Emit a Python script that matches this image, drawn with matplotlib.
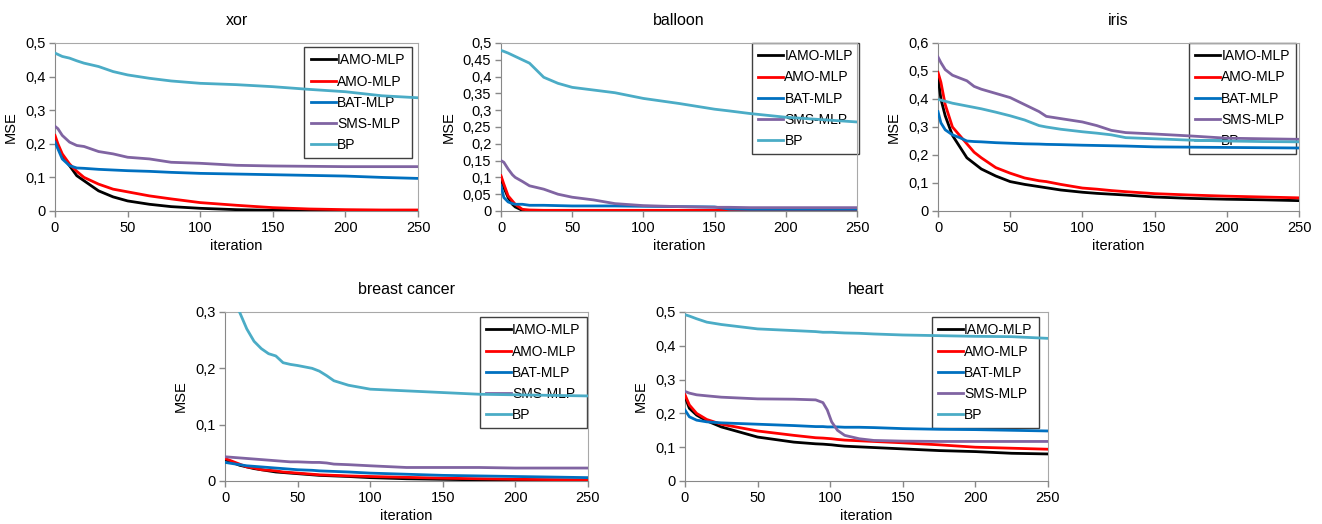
import matplotlib
matplotlib.use("Agg")
import matplotlib.pyplot as plt
from matplotlib.ticker import FuncFormatter, MultipleLocator

plt.rcParams['font.family'] = ['Liberation Sans', 'DejaVu Sans']

labels = ['IAMO-MLP', 'AMO-MLP', 'BAT-MLP', 'SMS-MLP', 'BP']
colors = ['#000000', '#FF0000', '#0070C0', '#8064A2', '#4BACC6']

# xor
xor_it = [0, 2, 5, 10, 15, 20, 30, 40, 50, 65, 80, 100, 125, 150, 175, 200, 225, 250]
xor_iamo = [0.21, 0.19, 0.165, 0.135, 0.105, 0.09, 0.06, 0.042, 0.03, 0.02, 0.013, 0.008, 0.004, 0.002, 0.001, 0.0005, 0.0, 0.0]
xor_amo = [0.225, 0.2, 0.17, 0.14, 0.118, 0.1, 0.08, 0.065, 0.057, 0.045, 0.036, 0.025, 0.017, 0.01, 0.006, 0.004, 0.003, 0.003]
xor_bat = [0.205, 0.185, 0.155, 0.135, 0.128, 0.127, 0.124, 0.122, 0.12, 0.118, 0.115, 0.112, 0.11, 0.108, 0.106, 0.104, 0.1, 0.097]
xor_sms = [0.252, 0.245, 0.225, 0.205, 0.195, 0.192, 0.177, 0.17, 0.16, 0.155, 0.145, 0.142, 0.136, 0.134, 0.133, 0.132, 0.132, 0.132]
xor_bp = [0.47, 0.466, 0.46, 0.455, 0.447, 0.44, 0.43, 0.415, 0.405, 0.395, 0.387, 0.38, 0.376, 0.37, 0.362, 0.355, 0.343, 0.337]

# balloon
bal_it = [0, 2, 5, 8, 10, 15, 20, 30, 40, 50, 65, 80, 100, 125, 150, 160, 175, 200, 225, 250]
bal_iamo = [0.1, 0.07, 0.04, 0.02, 0.012, 0.002, 0.0, 0.0, 0.0, 0.0, 0.0, 0.0, 0.0, 0.0, 0.0, 0.0, 0.0, 0.0, 0.0, 0.0]
bal_amo = [0.105, 0.08, 0.045, 0.03, 0.02, 0.005, 0.003, 0.002, 0.002, 0.002, 0.002, 0.002, 0.002, 0.002, 0.002, 0.002, 0.002, 0.002, 0.002, 0.002]
bal_bat = [0.075, 0.04, 0.027, 0.022, 0.02, 0.02, 0.017, 0.017, 0.016, 0.015, 0.015, 0.015, 0.014, 0.013, 0.012, 0.006, 0.005, 0.005, 0.005, 0.005]
bal_sms = [0.15, 0.145, 0.125, 0.108, 0.1, 0.088, 0.075, 0.065, 0.05, 0.041, 0.033, 0.022, 0.016, 0.013, 0.011, 0.011, 0.01, 0.01, 0.01, 0.01]
bal_bp = [0.478, 0.475, 0.47, 0.464, 0.46, 0.45, 0.44, 0.398, 0.38, 0.368, 0.36, 0.352, 0.335, 0.32, 0.303, 0.298, 0.29, 0.279, 0.272, 0.265]

# iris
iris_it = [0, 2, 5, 10, 15, 20, 25, 30, 40, 50, 60, 70, 75, 85, 100, 110, 120, 130, 150, 175, 200, 225, 250]
iris_iamo = [0.48, 0.4, 0.34, 0.27, 0.23, 0.19, 0.17, 0.15, 0.125, 0.105, 0.095, 0.087, 0.083, 0.075, 0.067, 0.063, 0.06, 0.057, 0.05, 0.045, 0.042, 0.04, 0.037]
iris_amo = [0.495, 0.46, 0.38, 0.3, 0.27, 0.24, 0.21, 0.19, 0.155, 0.135, 0.118, 0.108, 0.105, 0.095, 0.082, 0.078, 0.073, 0.069, 0.062, 0.057, 0.053, 0.05, 0.047]
iris_bat = [0.355, 0.315, 0.29, 0.272, 0.262, 0.25, 0.248, 0.247, 0.244, 0.242, 0.24, 0.239, 0.238, 0.237, 0.235, 0.234, 0.233, 0.232, 0.229, 0.228, 0.227, 0.226, 0.225]
iris_sms = [0.55, 0.53, 0.505, 0.485, 0.475, 0.465, 0.445, 0.435, 0.42, 0.405, 0.38, 0.355, 0.338, 0.33, 0.318, 0.305, 0.288, 0.28, 0.275, 0.268, 0.26, 0.258, 0.256]
iris_bp = [0.398, 0.396, 0.392, 0.385, 0.38, 0.375, 0.37, 0.365, 0.353, 0.34, 0.325, 0.305, 0.3, 0.292, 0.283, 0.278, 0.272, 0.262, 0.258, 0.253, 0.25, 0.248, 0.247]

# breast cancer
bc_it = [0, 5, 10, 15, 20, 25, 30, 35, 40, 45, 50, 60, 65, 70, 75, 85, 100, 125, 150, 175, 200, 225, 250]
bc_iamo = [0.038, 0.033, 0.028, 0.025, 0.022, 0.02, 0.018, 0.016, 0.015, 0.014, 0.013, 0.011, 0.01, 0.0095, 0.009, 0.008, 0.006, 0.004, 0.003, 0.002, 0.001, 0.001, 0.001]
bc_amo = [0.04, 0.035, 0.03, 0.025, 0.023, 0.02, 0.019, 0.018, 0.016, 0.015, 0.014, 0.012, 0.011, 0.0105, 0.01, 0.009, 0.008, 0.0065, 0.005, 0.004, 0.003, 0.0025, 0.002]
bc_bat = [0.033, 0.031, 0.029, 0.027, 0.026, 0.025, 0.024, 0.023, 0.022, 0.021, 0.02, 0.019, 0.018, 0.0175, 0.017, 0.016, 0.014, 0.012, 0.01, 0.009, 0.008, 0.007, 0.006]
bc_sms = [0.043, 0.042, 0.041, 0.04, 0.039, 0.038, 0.037, 0.036, 0.035, 0.034, 0.034, 0.033, 0.033, 0.032, 0.03, 0.029, 0.027, 0.024, 0.024, 0.024, 0.023, 0.023, 0.023]
bc_bp = [0.37, 0.33, 0.3, 0.27, 0.248, 0.235, 0.226, 0.222, 0.21, 0.207, 0.205, 0.2, 0.195, 0.187, 0.178, 0.17, 0.163, 0.16, 0.157, 0.154, 0.153, 0.152, 0.151]

# heart
hr_it = [0, 3, 8, 15, 25, 50, 75, 90, 95, 98, 101, 105, 110, 120, 130, 150, 175, 200, 225, 250]
hr_iamo = [0.25, 0.215, 0.195, 0.178, 0.16, 0.13, 0.115, 0.11, 0.109, 0.108, 0.107, 0.105, 0.103, 0.101, 0.099, 0.095, 0.09, 0.087, 0.082, 0.08]
hr_amo = [0.255, 0.225, 0.2, 0.182, 0.168, 0.148, 0.135, 0.128, 0.127, 0.126, 0.125, 0.123, 0.121, 0.119, 0.117, 0.113, 0.107, 0.1, 0.097, 0.094]
hr_bat = [0.21, 0.19, 0.18, 0.175, 0.172, 0.168, 0.164, 0.161, 0.161, 0.16, 0.16, 0.16, 0.159, 0.159, 0.158, 0.155, 0.153, 0.152, 0.15, 0.148]
hr_sms = [0.265, 0.26, 0.255, 0.252, 0.248, 0.243, 0.242, 0.24, 0.232, 0.21, 0.175, 0.15, 0.135, 0.125, 0.12, 0.118, 0.117, 0.117, 0.117, 0.117]
hr_bp = [0.492, 0.488, 0.48, 0.47, 0.463, 0.45, 0.445, 0.442, 0.44, 0.44, 0.44, 0.439, 0.438, 0.437, 0.435, 0.432, 0.43, 0.428, 0.427, 0.422]

W, H = 1322, 524

# (title, iterations, series, ymax, ystep, axes box in px: left, right, top, bottom, legend anchor)
panels = [
    ('xor', xor_it, [xor_iamo, xor_amo, xor_bat, xor_sms, xor_bp], 0.5, 0.1,
     (55, 418, 43, 211), (0.983, 0.976)),
    ('balloon', bal_it, [bal_iamo, bal_amo, bal_bat, bal_sms, bal_bp], 0.5, 0.05,
     (501, 857, 43, 211), (1.006, 1.0)),
    ('iris', iris_it, [iris_iamo, iris_amo, iris_bat, iris_sms, iris_bp], 0.6, 0.1,
     (938, 1299, 43, 211), (0.992, 1.0)),
    ('breast cancer', bc_it, [bc_iamo, bc_amo, bc_bat, bc_sms, bc_bp], 0.3, 0.1,
     (225, 588, 312, 481), (0.997, 0.97)),
    ('heart', hr_it, [hr_iamo, hr_amo, hr_bat, hr_sms, hr_bp], 0.5, 0.1,
     (685, 1048, 312, 481), (0.975, 0.97)),
]

comma = FuncFormatter(lambda v, p: ('%g' % round(v, 3)).replace('.', ','))

fig = plt.figure(figsize=(W / 100, H / 100), dpi=100)

for title, it, series, ymax, ystep, (l, r, t, b), anchor in panels:
    ax = fig.add_axes([l / W, 1 - b / H, (r - l) / W, (b - t) / H])
    for vals, lab, c in zip(series, labels, colors):
        ax.plot(it, vals, color=c, lw=2, label=lab, zorder=3)
    ax.set_xlim(0, 250)
    ax.set_ylim(0, ymax)
    ax.xaxis.set_major_locator(MultipleLocator(50))
    ax.yaxis.set_major_locator(MultipleLocator(ystep))
    ax.yaxis.set_major_formatter(comma)
    ax.tick_params(direction='out', length=4, width=1, color='#888888',
                   labelsize=10.5, pad=3)
    for s in ['left', 'bottom']:
        ax.spines[s].set_color('#888888')
    for s in ['top', 'right']:
        ax.spines[s].set_color('#A8A8A8')
    ax.set_title(title, fontsize=11.5, pad=13)
    ax.set_xlabel('iteration', fontsize=10.5, labelpad=3)
    ax.set_ylabel('MSE', fontsize=10.5, labelpad=5)
    leg = ax.legend(loc='upper right', bbox_to_anchor=anchor, fontsize=10,
                    frameon=True, fancybox=False, framealpha=1,
                    edgecolor='#404040', handlelength=1.8, handletextpad=0.1,
                    labelspacing=0.52, borderpad=0.45, borderaxespad=0)
    leg.get_frame().set_linewidth(1.0)
    leg.set_zorder(1)

fig.savefig('out.png', dpi=100)
